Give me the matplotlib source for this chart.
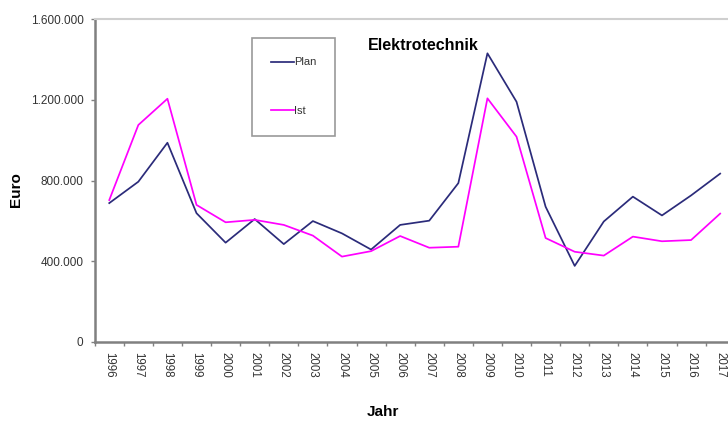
import matplotlib
matplotlib.use("Agg")
import matplotlib.pyplot as plt
import numpy as np
from matplotlib.ticker import FuncFormatter

plt.rcParams['font.family'] = ['Liberation Sans', 'DejaVu Sans']

years = [str(y) for y in range(1996, 2018)]
plan = [688000, 794000, 987000, 638000, 492000, 609000, 485000, 599000, 538000, 458000,
        580000, 601000, 787000, 1430000, 1190000, 670000, 377000, 597000, 720000, 627000,
        726000, 834000]
ist = [703000, 1075000, 1205000, 679000, 593000, 605000, 580000, 527000, 423000, 450000,
       525000, 467000, 472000, 1207000, 1017000, 515000, 447000, 428000, 522000, 499000,
       505000, 636000]
yticks = [0, 400000, 800000, 1200000, 1600000]

W, H = 728, 422
fig = plt.figure(figsize=(W / 100, H / 100), dpi=100)
ax = fig.add_axes([94.7 / W, (H - 342) / H, 640 / W, (342 - 19) / H])

x = np.arange(len(years))
ax.plot(x, plan, color='#2b2b7a', lw=1.25, label='Plan')
ax.plot(x, ist, color='#ff00ff', lw=1.25, label='Ist')

ax.set_xlim(-0.5, len(years) - 0.5)
ax.set_ylim(0, 1600000)
ax.set_yticks(yticks)
ax.yaxis.set_major_formatter(FuncFormatter(lambda v, p: f"{int(v):,}".replace(",", ".")))

ax.set_xticks(np.arange(-0.5, len(years), 1))
ax.set_xticklabels([])
ax.set_xticks(x, minor=True)
ax.set_xticklabels(years, minor=True, rotation=-90, fontsize=8.3, color='#333333')
ax.tick_params(axis='x', which='major', length=3, width=1, color='#808080', direction='out')
ax.tick_params(axis='x', which='minor', length=0, pad=7)
ax.tick_params(axis='y', length=3, width=1, color='#808080', pad=5, labelsize=8.5, labelcolor='#333333')

for s in ['left', 'bottom']:
    ax.spines[s].set_color('#808080')
    ax.spines[s].set_linewidth(1.8)
ax.spines['top'].set_color('#cfcfcf')
ax.spines['top'].set_linewidth(1.5)
ax.spines['right'].set_visible(False)

fig.text(423 / W, 1 - 46 / H, 'Elektrotechnik', fontsize=11.5, fontweight='bold',
         ha='center', va='center')
fig.text(16 / W, 1 - 190 / H, 'Euro', fontsize=11, fontweight='bold', rotation=90,
         ha='center', va='center')
fig.text(383 / W, 1 - 412 / H, 'Jahr', fontsize=11, fontweight='bold',
         ha='center', va='center')

leg = ax.legend(loc='upper left', bbox_to_anchor=(252 / W, 1 - 38 / H),
                bbox_transform=fig.transFigure, borderaxespad=0, fontsize=8,
                handlelength=2.0, handletextpad=0.0, labelspacing=3.5, borderpad=1.75,
                fancybox=False, frameon=True)
leg.get_frame().set_edgecolor('#808080')
leg.get_frame().set_linewidth(1.2)
for t in leg.get_texts():
    t.set_color('#333333')

fig.savefig('out.png', dpi=100)
